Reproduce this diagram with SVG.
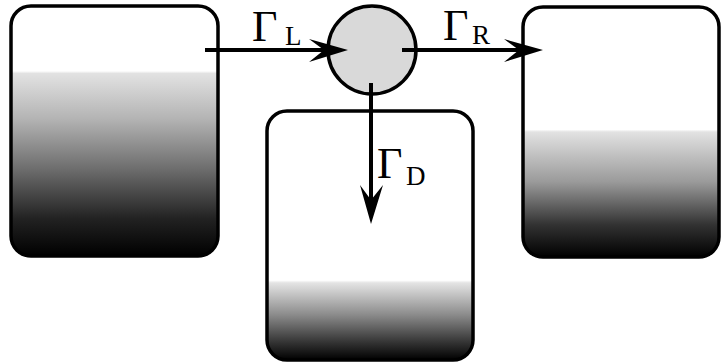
<svg xmlns="http://www.w3.org/2000/svg" width="721" height="362" viewBox="0 0 721 362">
<style>
.box{stroke:#000;stroke-width:3.5}
.arr{stroke:#000;stroke-width:4;fill:none}
.head{fill:#000;stroke:none}
.lab{font-family:"Liberation Serif","DejaVu Serif",serif;fill:#000}
.big{font-size:44px}
.sub{font-size:27px}
</style>
<defs>
<linearGradient id="gL" x1="0" y1="0" x2="0" y2="1">
<stop offset="0" stop-color="#fff"/>
<stop offset="0.26" stop-color="#fff"/>
<stop offset="0.27" stop-color="#e2e2e2"/>
<stop offset="0.45" stop-color="#b4b4b4"/>
<stop offset="0.65" stop-color="#6e6e6e"/>
<stop offset="0.85" stop-color="#222"/>
<stop offset="1" stop-color="#000"/>
</linearGradient>
<linearGradient id="gD" x1="0" y1="0" x2="0" y2="1">
<stop offset="0" stop-color="#fff"/>
<stop offset="0.68" stop-color="#fff"/>
<stop offset="0.69" stop-color="#e4e4e4"/>
<stop offset="0.82" stop-color="#8a8a8a"/>
<stop offset="0.93" stop-color="#333"/>
<stop offset="1" stop-color="#000"/>
</linearGradient>
<linearGradient id="gR" x1="0" y1="0" x2="0" y2="1">
<stop offset="0" stop-color="#fff"/>
<stop offset="0.49" stop-color="#fff"/>
<stop offset="0.5" stop-color="#e2e2e2"/>
<stop offset="0.7" stop-color="#9a9a9a"/>
<stop offset="0.87" stop-color="#333"/>
<stop offset="1" stop-color="#000"/>
</linearGradient>
</defs>
<rect width="721" height="362" fill="#fff"/>
<g id="reservoirL"><rect class="box" x="11" y="6" width="207" height="250" rx="20" fill="url(#gL)"/></g>
<g id="reservoirD"><rect class="box" x="267" y="111" width="206" height="249" rx="20" fill="url(#gD)"/></g>
<g id="reservoirR"><rect class="box" x="523" y="7" width="196" height="250" rx="20" fill="url(#gR)"/></g>
<g id="dot"><circle cx="372" cy="50" r="44" fill="#d9d9d9" stroke="#000" stroke-width="3.5"/></g>
<g id="connectors">
<line class="arr" x1="205" y1="50" x2="330" y2="50"/>
<path class="head" d="M348,50 L309,39 L324,50 L309,62 Z"/>
<line class="arr" x1="402" y1="50" x2="525" y2="50"/>
<path class="head" d="M543,50 L504,39 L519,50 L504,62 Z"/>
<line class="arr" x1="371" y1="83" x2="371" y2="205"/>
<path class="head" d="M371,224 L360,185 L371,200 L383,185 Z"/>
</g>
<g id="labels">
<text class="lab"><tspan class="big" x="252" y="41">Γ</tspan><tspan class="sub" x="285" y="45">L</tspan></text>
<text class="lab"><tspan class="big" x="443" y="40">Γ</tspan><tspan class="sub" x="472" y="44">R</tspan></text>
<text class="lab"><tspan class="big" x="377" y="178">Γ</tspan><tspan class="sub" x="406" y="185">D</tspan></text>
</g>
</svg>
